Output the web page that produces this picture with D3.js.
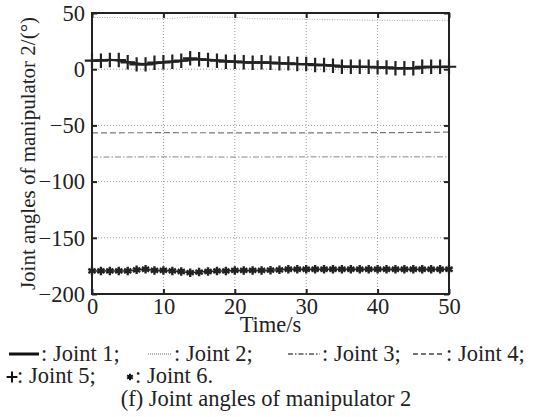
<!DOCTYPE html>
<html>
<head>
<meta charset="utf-8">
<script src="https://cdn.jsdelivr.net/npm/d3@7"></script>
<style>
  body { margin: 0; background: #fff; }
  svg text { font-family: "Liberation Serif", "Times New Roman", "DejaVu Serif", serif; font-weight: normal; fill: #222; }
</style>
</head>
<body>
<svg id="chart" width="543" height="417" font-family="Liberation Serif, Times New Roman, serif"></svg>
<script>
// values
var xTicks = [0, 10, 20, 30, 40, 50];
var yTicks = [50, 0, -50, -100, -150, -200];

var tLine = [0, 2.5, 5, 7.5, 10, 12.5, 15, 17.5, 20, 22.5, 25, 27.5, 30, 32.5, 35, 37.5, 40, 42.5, 45, 47.5, 50];
var joint1 = [7.5, 8.3, 6.3, 4.6, 6.0, 7.5, 9.0, 7.8, 6.8, 6.0, 5.6, 5.0, 4.4, 3.8, 2.6, 2.2, 1.7, 1.0, 1.0, 1.8, 2.0];

var tJ2 = [0, 5, 7.5, 10, 12.5, 15, 20, 22.5, 25, 30, 35, 40, 45, 50];
var joint2 = [46, 45.8, 44.8, 45, 45.8, 46.5, 46, 45, 44.8, 44.5, 44, 43.5, 43.3, 43.2];

var tFlat = [0, 10, 20, 30, 40, 45, 50];
var joint3 = [-78.2, -78.0, -78.2, -78.0, -78.0, -78.0, -78.0];
var joint4 = [-56.6, -56.5, -56.6, -56.6, -56.5, -56.3, -56.0];

var tMark = [0, 1.25, 2.5, 3.75, 5, 6.25, 7.5, 8.75, 10, 11.25, 12.5, 13.75, 15, 16.25, 17.5, 18.75, 20,
  21.25, 22.5, 23.75, 25, 26.25, 27.5, 28.75, 30, 31.25, 32.5, 33.75, 35, 36.25, 37.5, 38.75, 40,
  41.25, 42.5, 43.75, 45, 46.25, 47.5, 48.75, 50];
var joint5 = [7.6, 7.6, 8.2, 8.2, 6.1, 4.3, 4.3, 5.8, 6.1, 6.7, 7.6, 9.7, 8.8, 8.2, 7.6, 6.7, 6.7,
  6.1, 5.8, 6.1, 5.8, 5.2, 5.2, 4.6, 4.6, 3.7, 3.7, 3.1, 2.2, 2.2, 2.2, 2.2, 1.6,
  1.6, 0.8, 0.8, 0.8, 2.2, 2.2, 2.2, 2.2];
var joint6 = [-179.5, -179.5, -179.5, -179.5, -179.5, -178.5, -178.0, -179.0, -179.0, -179.5, -180.0, -181.0, -180.5, -180.0, -179.5, -179.5, -179.0,
  -179.0, -179.0, -179.0, -178.8, -178.5, -178.0, -178.0, -178.0, -178.0, -178.0, -178.0, -178.0, -178.0, -178.0, -178.0, -178.0,
  -178.0, -178.0, -178.0, -178.0, -178.0, -178.0, -178.0, -178.0];

var legendRow1 = ["Joint 1;", "Joint 2;", "Joint 3;", "Joint 4;"];
var legendRow2 = ["Joint 5;", "Joint 6."];

var svg = d3.select("#chart");
// (window.top is taken, so plot edges get their own names)
var pL = 92, pR = 449, pT = 13, pB = 294;
var fs = 22.5;

var x = d3.scaleLinear().domain([0, 50]).range([pL, pR]);
var y = d3.scaleLinear().domain([-200, 50]).range([pB, pT]);

// grid
var grid = svg.append("g").attr("class", "grid");
grid.selectAll(".gx").data(xTicks.slice(1, -1)).enter().append("line")
  .attr("x1", d => x(d)).attr("x2", d => x(d)).attr("y1", pT).attr("y2", pB)
  .attr("stroke", "#999").attr("stroke-width", 1).attr("stroke-dasharray", "1,2");
grid.selectAll(".gy").data(yTicks.slice(1, -1)).enter().append("line")
  .attr("x1", pL).attr("x2", pR).attr("y1", d => y(d)).attr("y2", d => y(d))
  .attr("stroke", "#999").attr("stroke-width", 1).attr("stroke-dasharray", "1,2");

function pts(ts, vs) { return ts.map((t, i) => [t, vs[i]]); }
var line = d3.line().x(d => x(d[0])).y(d => y(d[1]));
var smooth = d3.line().x(d => x(d[0])).y(d => y(d[1])).curve(d3.curveMonotoneX);

// series
svg.append("path").datum(pts(tJ2, joint2)).attr("d", smooth)
  .attr("fill", "none").attr("stroke", "#aaa").attr("stroke-width", 1).attr("stroke-dasharray", "1,1.5");
svg.append("path").datum(pts(tFlat, joint3)).attr("d", line)
  .attr("fill", "none").attr("stroke", "#888").attr("stroke-width", 1).attr("stroke-dasharray", "6,2,1.5,2");
svg.append("path").datum(pts(tFlat, joint4)).attr("d", line)
  .attr("fill", "none").attr("stroke", "#777").attr("stroke-width", 1.2).attr("stroke-dasharray", "6,3");
svg.append("path").datum(pts(tLine, joint1)).attr("d", smooth)
  .attr("fill", "none").attr("stroke", "#222").attr("stroke-width", 2.2);
svg.append("path").datum(pts(tMark, joint6)).attr("d", line)
  .attr("fill", "none").attr("stroke", "#222").attr("stroke-width", 1.5);

var plus = d3.symbol().type(d3.symbolPlus).size(70);
svg.selectAll(".m5").data(pts(tMark, joint5)).enter().append("path")
  .attr("d", plus).attr("transform", d => "translate(" + x(d[0]) + "," + y(d[1]) + ")")
  .attr("fill", "none").attr("stroke", "#222").attr("stroke-width", 2.2);

var star = d3.symbol().type(d3.symbolAsterisk).size(50);
svg.selectAll(".m6").data(pts(tMark, joint6)).enter().append("path")
  .attr("d", star).attr("transform", d => "translate(" + x(d[0]) + "," + y(d[1]) + ")")
  .attr("fill", "none").attr("stroke", "#222").attr("stroke-width", 2.4);

// axes (ticks pointing inward, box all round)
function fmt(d) { return d < 0 ? "\u2212" + Math.abs(d) : String(d); }
var ax = svg.append("g").attr("transform", "translate(0," + pB + ")")
  .call(d3.axisBottom(x).tickValues(xTicks).tickSize(-5).tickPadding(4).tickFormat(fmt));
var ay = svg.append("g").attr("transform", "translate(" + pL + ",0)")
  .call(d3.axisLeft(y).tickValues(yTicks).tickSize(-5).tickPadding(7).tickFormat(fmt));
var at = svg.append("g").attr("transform", "translate(0," + pT + ")")
  .call(d3.axisTop(x).tickValues(xTicks).tickSize(-5).tickFormat(""));
var ar = svg.append("g").attr("transform", "translate(" + pR + ",0)")
  .call(d3.axisRight(y).tickValues(yTicks).tickSize(-5).tickFormat(""));
[ax, ay, at, ar].forEach(function (g) {
  g.attr("font-family", null).attr("font-size", null);
  g.select(".domain").remove();
  g.selectAll(".tick line").attr("stroke", "#222").attr("stroke-width", 2);
  g.selectAll(".tick text").attr("font-size", fs).attr("fill", "#222");
});
ax.selectAll(".tick text").attr("dy", "0.71em");
svg.append("rect").attr("x", pL).attr("y", pT).attr("width", pR - pL).attr("height", pB - pT)
  .attr("fill", "none").attr("stroke", "#222").attr("stroke-width", 2);

// axis titles
svg.append("text").attr("x", (pL + pR) / 2).attr("y", 332).attr("text-anchor", "middle")
  .attr("font-size", fs).text("Time/s");
svg.append("text").attr("transform", "translate(35," + (pT + pB) / 2 + ") rotate(-90)")
  .attr("text-anchor", "middle").attr("font-size", 21).text("Joint angles of manipulator 2/(\u00b0)");

// legend
var row1x = [9, 148, 288, 413];
var row1Dash = [null, "1,1", "5,2,1.5,2", "5,3"];
var row1Col = ["#111", "#999", "#555", "#444"];
var row1W = [30, 24, 32, 31];
row1x.forEach(function (px, i) {
  svg.append("line").attr("x1", px).attr("x2", px + row1W[i]).attr("y1", 354).attr("y2", 354)
    .attr("stroke", row1Col[i]).attr("stroke-width", i === 0 ? 3 : 1.3)
    .attr("stroke-dasharray", row1Dash[i]);
  svg.append("text").attr("x", px + row1W[i] + 2).attr("y", 361).attr("font-size", fs)
    .text(": " + legendRow1[i]);
});
svg.append("path").attr("d", d3.symbol().type(d3.symbolPlus).size(40))
  .attr("transform", "translate(12,377)").attr("fill", "none").attr("stroke", "#111").attr("stroke-width", 2);
svg.append("text").attr("x", 17).attr("y", 383).attr("font-size", fs).text(": " + legendRow2[0]);
svg.append("path").attr("d", d3.symbol().type(d3.symbolAsterisk).size(30))
  .attr("transform", "translate(130,377)").attr("fill", "none").attr("stroke", "#111").attr("stroke-width", 2);
svg.append("text").attr("x", 135).attr("y", 383).attr("font-size", fs).text(": " + legendRow2[1]);

svg.append("text").attr("x", 266).attr("y", 406).attr("text-anchor", "middle").attr("font-size", fs)
  .text("(f) Joint angles of manipulator 2");
</script>
</body>
</html>
